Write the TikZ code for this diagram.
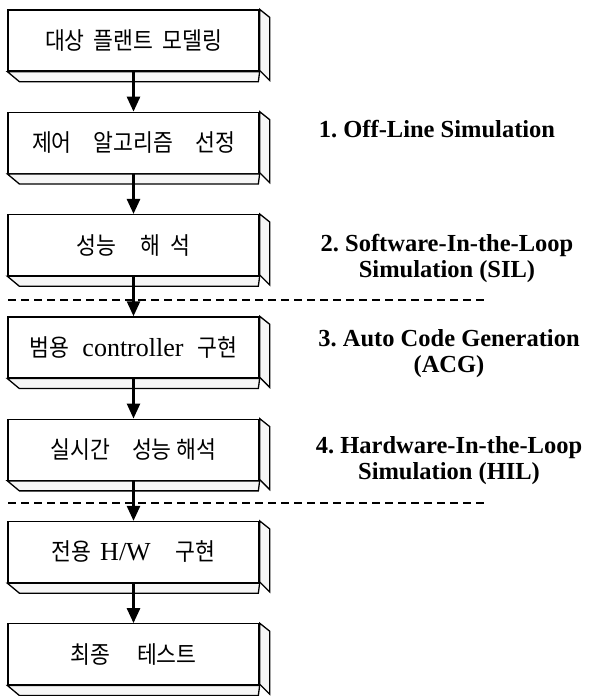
\documentclass[tikz,border=0pt]{standalone}
\usepackage{fontspec}
\setmainfont{Liberation Serif}
\newfontfamily\kr[FakeStretch=0.9]{Noto Sans CJK KR}
\usetikzlibrary{arrows.meta}
\newcommand{\ks}[1]{\hspace*{#1pt}}
\newcommand{\lat}[1]{{\rmfamily\fontsize{26}{28}\selectfont #1}}
\frenchspacing
\tikzset{
  x=1pt, y=-1pt,
  stepbox/.style={draw, line width=1.3pt, fill=white, minimum width=251pt, minimum height=61pt, inner sep=0pt, font=\kr\fontsize{24}{28}\selectfont},
  face/.style={draw, line width=1.3pt, fill=gray!7, line join=miter},
  arr/.style={line width=2.6pt, -{Triangle[length=15pt, width=13pt]}},
  sep/.style={line width=1.1pt, dash pattern=on 8pt off 5pt},
  lab/.style={font=\bfseries\fontsize{24.5}{26}\selectfont, align=center, inner sep=0pt},
}
\begin{document}
\begin{tikzpicture}
\useasboundingbox[fill=white] (0,0) rectangle (591,696);
\foreach \i/\t in {1/{대상\ks{9}플랜트\ks{9}모델링},
                   2/{제어\ks{22}알고리즘\ks{22}선정},
                   3/{성능\ks{24}해\ks{10}석},
                   4/{범용\ks{13}\lat{controller}\ks{14}구현},
                   5/{실시간\ks{22}성능\ks{5}해석},
                   6/{전용\ks{9}\lat{H/W}\ks{25}구현},
                   7/{최종\ks{27}테스트}} {
  \pgfmathsetmacro{\ty}{10+102.3*(\i-1)+30.5}
  \node[stepbox] (b\i) at (133.5,\ty) {\t};
  \draw[face] (b\i.north east) -- ++(10,8) -- ++(0,63) -- ++(-10,-10) -- cycle;
  \draw[face] (b\i.south west) -- ++(12,10) -- ++(239,0) -- (b\i.south east) -- cycle;
}
\foreach \a/\b in {1/2,2/3,3/4,4/5,5/6,6/7} {
  \draw[arr] (b\a.south) -- (b\b.north);
}
\coordinate (d1a) at (8,300); \coordinate (d1b) at (487,300);
\coordinate (d2a) at (8,503); \coordinate (d2b) at (487,503);
\draw[sep] (d1a) -- (d1b);
\draw[sep] (d2a) -- (d2b);
\node[lab] (l1) at (437,129) {1. Off-Line Simulation};
\node[lab] (l2) at (447,258) {2. Software-In-the-Loop\\Simulation (SIL)};
\node[lab] (l3) at (449,354) {3. Auto Code Generation\\(ACG)};
\node[lab] (l4) at (449,461) {4. Hardware-In-the-Loop\\Simulation (HIL)};
\end{tikzpicture}
\end{document}
